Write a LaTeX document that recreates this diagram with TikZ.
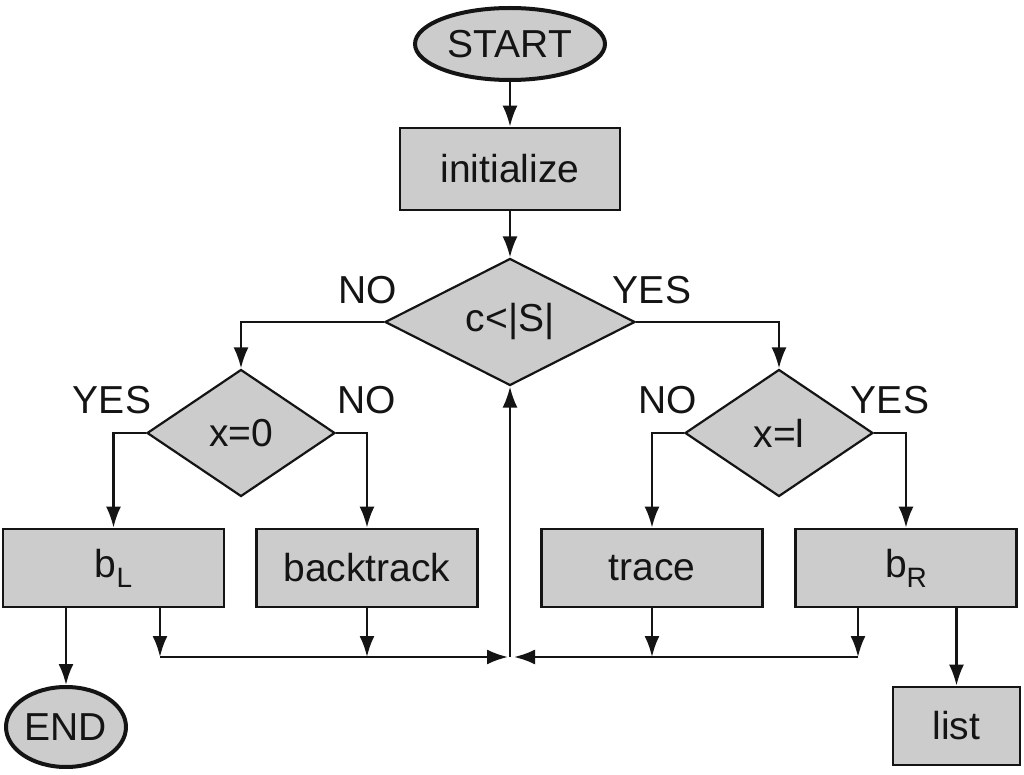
\documentclass[tikz,border=0pt]{standalone}
\usepackage{fontspec}
\setmainfont{Liberation Sans}
\usetikzlibrary{shapes.geometric,arrows.meta}
\definecolor{boxgray}{RGB}{204,204,204}
\definecolor{inkc}{RGB}{20,20,20}
\begin{document}
\begin{tikzpicture}[x=0.5pt,y=-0.5pt,
  every node/.style={font=\fontsize{19.5}{23}\selectfont, text=inkc},
  boxst/.style={draw=inkc, rectangle, fill=boxgray, line width=1.4pt, minimum width=110.5pt, minimum height=39pt, inner sep=0pt},
  ovalst/.style={draw=inkc, ellipse, fill=boxgray, line width=2pt, inner sep=0pt},
  diast/.style={draw=inkc, diamond, fill=boxgray, line width=1.1pt, inner sep=0pt, shape aspect=2},
  arr/.style={draw=inkc, line width=1.2pt, -{Latex[length=10.5pt,width=7.5pt]}},
  lab/.style={inner sep=0pt}]
\useasboundingbox (0,0) rectangle (1024,775);
\fill[white] (0,0) rectangle (1024,775);

% nodes
\node[ovalst, minimum width=95pt, minimum height=36pt] (start) at (510,44) {START};
\node[boxst, minimum width=110pt, minimum height=41pt] (init) at (510,169) {initialize};
\node[diast, minimum width=125pt, minimum height=63.5pt] (cond) at (510,322) {c<|S|};
\node[diast, minimum width=94pt, minimum height=63.5pt] (x0) at (241,433) {x=0};
\node[diast, minimum width=94pt, minimum height=63.5pt] (xl) at (779,433) {x=l};
\node[boxst] (bL) at (113.5,568) {b\raisebox{-5pt}{\fontsize{14}{14}\selectfont L}};
\node[boxst] (back) at (367,568) {backtrack};
\node[boxst] (trace) at (652,568) {trace};
\node[boxst] (bR) at (906,568) {b\raisebox{-5pt}{\fontsize{14}{14}\selectfont R}};
\node[ovalst, minimum width=60pt, minimum height=40pt] (end) at (66,727) {END};
\node[boxst, minimum width=63.5pt, minimum height=39pt] (list) at (956.5,726) {list};

% labels
\node[lab] (l1) at (368,290) {NO};
\node[lab] (l2) at (652,290) {YES};
\node[lab] (l3) at (112,400) {YES};
\node[lab] (l4) at (367,400) {NO};
\node[lab] (l5) at (668,400) {NO};
\node[lab] (l6) at (890,400) {YES};

% connectors
\draw[arr] (start) -- (init);
\draw[arr] (init) -- (cond);
\draw[arr] (cond.west) -| (x0.north);
\draw[arr] (cond.east) -| (xl.north);
\draw[arr] (x0.west) -| (bL.north);
\draw[arr] (x0.east) -| (back.north);
\draw[arr] (xl.west) -| (trace.north);
\draw[arr] (xl.east) -| (bR.north);

\coordinate (j) at (510,657);
\coordinate (mL) at (160,657);
\coordinate (mR) at (858,657);
\draw[arr] (bL.south -| mL) -- (mL);
\draw[arr] (back.south) -- (back.south |- j);
\draw[arr] (trace.south) -- (trace.south |- j);
\draw[arr] (bR.south -| mR) -- (mR);
\draw[arr, shorten >=1pt] (mL) -- (j);
\draw[arr, shorten >=2pt] (mR) -- (j);
\draw[arr] (j) -- (cond.south);
\draw[arr] (bL.south -| end.north) -- (end.north);
\draw[arr] (bR.south -| list.north) -- (list.north);
\end{tikzpicture}
\end{document}
